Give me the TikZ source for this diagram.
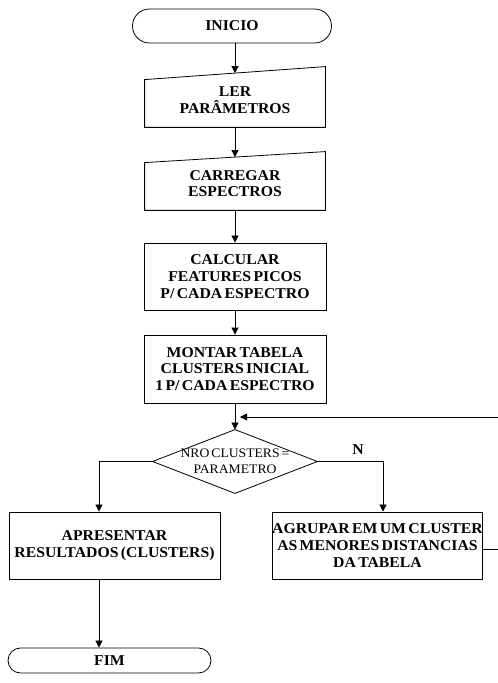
\documentclass[tikz,border=0pt]{standalone}
\usepackage{fontspec}
\setmainfont[FakeStretch=1.05, WordSpace=0.6]{Liberation Serif}
\usetikzlibrary{arrows.meta}
\begin{document}
\begin{tikzpicture}[x=1pt,y=1pt,
  line width=0.8pt,
  txt/.style={align=center, inner sep=0pt, font=\bfseries\fontsize{15}{16.7}\selectfont},
  box/.style={txt, draw},
  term/.style={txt, draw},
  plainnode/.style={txt},
  dectxt/.style={align=center, inner sep=0pt, font=\fontsize{13}{16}\selectfont},
  arr/.style={-{Triangle[length=7pt,width=7pt]}}
]
\useasboundingbox (0,0) rectangle (498,683);
\clip (0,0) rectangle (498,683);

\node[term, minimum width=199pt, minimum height=34pt, rounded corners=17pt] (ini) at (232,657) {INICIO};

\node[plainnode, minimum width=180pt, minimum height=53.5pt] (ler) at (235,582.75) {LER\\PARÂMETROS};
\draw (ler.south west) -- (ler.south east) -- ([yshift=6.5pt]ler.north east) -- ([yshift=-6.5pt]ler.north west) -- cycle;

\node[plainnode, minimum width=180pt, minimum height=52.5pt] (car) at (235,499.25) {CARREGAR\\ESPECTROS};
\draw (car.south west) -- (car.south east) -- ([yshift=5.5pt]car.north east) -- ([yshift=-5.5pt]car.north west) -- cycle;

\node[box, minimum width=182pt, minimum height=67pt] (calc) at (235,406.5) {CALCULAR\\FEATURES PICOS\\P/ CADA ESPECTRO};

\node[box, minimum width=182pt, minimum height=68pt] (mon) at (235,314) {MONTAR TABELA\\CLUSTERS INICIAL\\1 P/ CADA ESPECTRO};

\node[dectxt, minimum width=164pt, minimum height=63pt] (dec) at (235,221.5) {NRO CLUSTERS =\\PARAMETRO};
\draw (dec.north) -- (dec.east) -- (dec.south) -- (dec.west) -- cycle;

\node[box, minimum width=211pt, minimum height=67pt] (apr) at (114.5,137.5) {APRESENTAR\\RESULTADOS (CLUSTERS)};

\node[box, minimum width=209pt, minimum height=67pt] (agr) at (377.5,137.5) {AGRUPAR EM UM CLUSTER\\AS MENORES DISTANCIAS\\DA TABELA};

\node[term, minimum width=203pt, minimum height=25pt, rounded corners=12.5pt] (fim) at (109.5,22.5) {FIM};

\node[txt] (nlab) at (358,233) {N};

\coordinate (back) at (240,266);
\coordinate (edge) at (505,0);

\draw[arr] ([xshift=3pt]ini.south) -- (ler.north);
\draw[arr] (ler.south) -- (car.north);
\draw[arr] (car.south) -- (calc.north);
\draw[arr] (calc.south) -- (mon.north);
\draw[arr] (mon.south) -- (dec.north);
\draw[arr] (dec.west) -| ([xshift=-15.5pt]apr.north);
\draw[arr] (dec.east) -| ([xshift=5.5pt]agr.north);
\draw[arr] ([xshift=-15.5pt]apr.south) -- ([xshift=-10.5pt]fim.north);
\draw[arr] ([yshift=-4pt]agr.east) -- ([yshift=-4pt]agr.east -| edge) |- (back);
\end{tikzpicture}
\end{document}
